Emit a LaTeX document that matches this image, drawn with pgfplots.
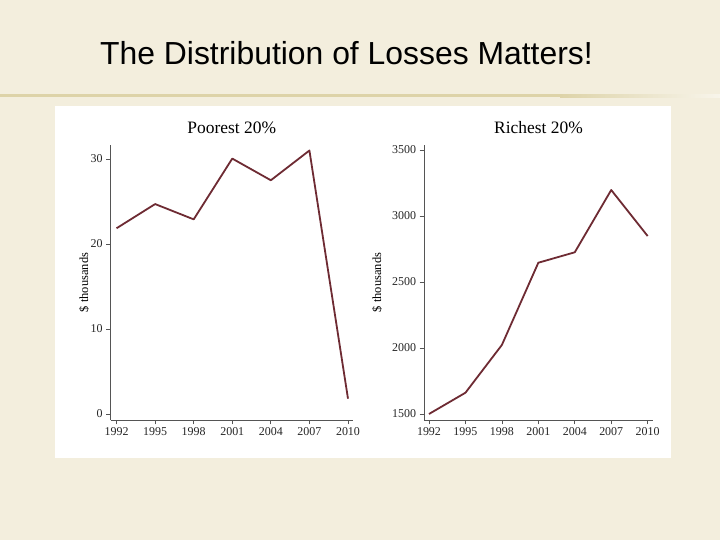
\documentclass[border=0pt]{standalone}
\usepackage{pgfplots}
\pgfplotsset{compat=1.18}
\usepackage{fontspec}
\setmainfont{Liberation Serif}
\newfontfamily\slidefont{Liberation Sans}

\definecolor{slidebg}{HTML}{F3EEDD}
\definecolor{rule}{HTML}{DDD3A8}
\definecolor{lossred}{HTML}{6E2B33}
\definecolor{axgray}{HTML}{555555}

\pgfplotsset{
    panel/.style={
        scale only axis,
        anchor=south west,
        height=275bp,
        axis x line*=bottom,
        axis y line*=left,
        axis line style={axgray, line width=0.7bp},
        tick style={axgray, line width=0.7bp},
        tick align=outside,
        major tick length=4.5bp,
        xtick={1992,1995,1998,2001,2004,2007,2010},
        /pgf/number format/assume math mode=true,
        /pgf/number format/set thousands separator={},
        ticklabel style={font=\fontsize{12}{14}\selectfont, text=black!85},
        title style={font=\fontsize{17.5}{20}\selectfont, anchor=base, at={(0.5,1)}, yshift=6bp},
        ylabel={\$ thousands},
        label style={font=\fontsize{12.5}{14}\selectfont},
    },
    lossline/.style={lossred, line width=1.8bp, mark=none, line join=round},
}

\begin{document}
\begin{tikzpicture}[x=1bp,y=1bp]
    % slide background
    \fill[slidebg] (0,0) rectangle (720,540);
    \fill[rule] (0,442.5) rectangle (560,445.5);
    \shade[left color=rule, right color=slidebg!60!white] (560,442.5) rectangle (720,445.5);
    \node[anchor=base west, inner sep=0pt, font=\slidefont\fontsize{32}{36}\selectfont] at (100,475) {The Distribution of Losses Matters!};
    \fill[white] (55,82) rectangle (671,434);

    % left panel
    \begin{axis}[panel,
        at={(110.5bp,120bp)},
        width=242.5bp,
        xmin=1991.53, xmax=2010.39,
        ymin=-0.71, ymax=31.65,
        ytick={0,10,20,30},
        title={Poorest 20\%},
        ylabel style={at={(-0.109,0.5)}, anchor=center},
    ]
        \addplot[lossline] coordinates {(1992,21.85) (1995,24.7) (1998,22.9) (2001,30.05) (2004,27.5) (2007,31.0) (2010,1.8)};
    \end{axis}

    % right panel
    \begin{axis}[panel,
        at={(424bp,120bp)},
        width=229bp,
        xmin=1991.59, xmax=2010.44,
        ymin=1454.5, ymax=3538,
        ytick={1500,2000,2500,3000,3500},
        title={Richest 20\%},
        ylabel style={at={(-0.205,0.5)}, anchor=center},
    ]
        \addplot[lossline] coordinates {(1992,1500) (1995,1661) (1998,2023) (2001,2646) (2004,2725) (2007,3197) (2010,2848)};
    \end{axis}

    \pgfresetboundingbox
    \useasboundingbox (0,0) rectangle (720,540);
\end{tikzpicture}
\end{document}
